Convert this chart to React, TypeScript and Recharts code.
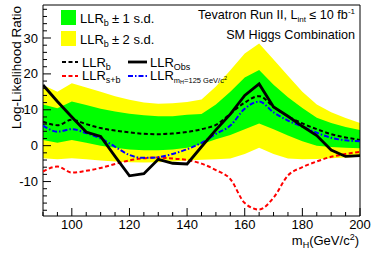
import { ComposedChart, Area, Line, XAxis, YAxis, ReferenceArea } from "recharts";

// Higgs mass points (GeV/c^2)
const masses = [90, 95, 100, 105, 110, 115, 120, 125, 130, 135, 140, 145, 150, 155, 160, 165, 170, 175, 180, 185, 190, 195, 200];

// log-likelihood ratios
const llrObs = [16.9, 12.3, 8.0, 3.8, 2.6, -3.0, -8.4, -7.8, -3.8, -4.9, -5.1, -0.3, 4.4, 8.8, 14.0, 17.2, 10.8, 8.2, 5.4, 2.8, -1.2, -3.0, -2.8];
const llrB = [6.7, 5.7, 7.2, 6.0, 4.9, 4.2, 3.7, 3.3, 3.2, 3.4, 3.8, 4.6, 5.8, 8.9, 12.0, 13.8, 10.8, 8.2, 6.2, 4.6, 3.2, 2.3, 1.6];
const llrSB = [-7.2, -5.8, -7.5, -7.0, -6.2, -5.1, -4.1, -3.5, -3.3, -3.6, -4.0, -5.0, -6.8, -9.3, -16.0, -17.8, -14.5, -8.3, -6.0, -4.4, -3.1, -2.3, -1.7];
const llrH125 = [5.6, 3.9, 4.6, 3.5, 2.0, -0.3, -2.6, -3.4, -3.2, -2.3, -1.0, 0.8, 3.3, 5.6, 10.3, 12.3, 9.3, 7.0, 5.3, 3.6, 2.2, 1.5, 1.2];

// LLR_b bands
const sd1Hi = [11.5, 10.4, 12.3, 11.3, 10.3, 9.5, 8.9, 8.5, 8.2, 8.2, 8.6, 8.8, 11.5, 15.0, 19.0, 21.1, 17.0, 13.5, 10.5, 7.8, 6.3, 5.2, 4.4];
const sd1Lo = [1.6, 0.8, 1.6, 0.8, 0.0, -0.6, -1.1, -1.3, -1.3, -1.1, -0.6, 0.4, 1.8, 3.0, 4.6, 6.2, 4.6, 2.8, 1.2, 0.0, -0.4, -0.6, -0.7];
const sd2Hi = [16.9, 15.0, 17.4, 16.2, 15.0, 13.8, 12.8, 12.0, 11.7, 11.8, 12.2, 12.9, 16.5, 21.0, 25.7, 28.5, 24.0, 19.5, 15.0, 11.5, 9.3, 7.7, 6.3];
const sd2Lo = [-3.5, -3.8, -3.5, -3.8, -4.1, -4.4, -4.6, -4.7, -4.6, -4.4, -4.1, -3.9, -3.8, -3.6, -2.3, -0.6, -2.3, -3.6, -3.8, -3.7, -3.5, -3.3, -3.1];

// axis ticks (majors get labels)
const xTicks = [90, 95, 100, 105, 110, 115, 120, 125, 130, 135, 140, 145, 150, 155, 160, 165, 170, 175, 180, 185, 190, 195, 200];
const yTicks = [-18, -16, -14, -12, -10, -8, -6, -4, -2, 0, 2, 4, 6, 8, 10, 12, 14, 16, 18, 20, 22, 24, 26, 28, 30, 32, 34, 36, 38];

const X_DOMAIN: [number, number] = [90, 200];
const Y_DOMAIN: [number, number] = [-19.6, 39.2];

const FONT = "'Liberation Sans', Arial, Helvetica, sans-serif";
const GREEN = "#00ff00";
const YELLOW = "#ffff00";

const data = masses.map((m, i) => ({
  m,
  obs: llrObs[i],
  b: llrB[i],
  sb: llrSB[i],
  h125: llrH125[i],
  sd1: [sd1Lo[i], sd1Hi[i]],
  sd2: [sd2Lo[i], sd2Hi[i]],
}));

function XTick({ x, y, payload }: any) {
  const major = payload.value % 20 === 0;
  return (
    <g>
      <line x1={x} x2={x} y1={y} y2={y - (major ? 8 : 4)} stroke="#000" />
      {major && (
        <text x={x} y={y + 12.5} textAnchor="middle" fontSize={13} fontFamily={FONT} fill="#000">
          {payload.value}
        </text>
      )}
    </g>
  );
}

function YTick({ x, y, payload }: any) {
  const major = payload.value % 10 === 0;
  return (
    <g>
      <line x1={x} x2={x + (major ? 8 : 4)} y1={y} y2={y} stroke="#000" />
      {major && (
        <text x={x - 5} y={y + 4.6} textAnchor="end" fontSize={13} fontFamily={FONT} fill="#000">
          {payload.value}
        </text>
      )}
    </g>
  );
}

export default function App() {
  return (
    <div style={{ position: "fixed", left: 0, top: 0, width: 374, height: 255, background: "#fff" }}>
      <ComposedChart width={374} height={255} data={data} margin={{ top: 5, right: 14, bottom: 0, left: 0 }}>
        <XAxis
          dataKey="m"
          type="number"
          domain={X_DOMAIN}
          ticks={xTicks}
          interval={0}
          height={39}
          tickSize={0}
          tickMargin={0}
          axisLine={false}
          tickLine={false}
          tick={XTick}
          allowDataOverflow
        />
        <YAxis
          type="number"
          domain={Y_DOMAIN}
          ticks={yTicks}
          interval={0}
          width={43}
          tickSize={0}
          tickMargin={0}
          axisLine={false}
          tickLine={false}
          tick={YTick}
          allowDataOverflow
        />
        <Area dataKey="sd2" type="linear" stroke="none" fill={YELLOW} fillOpacity={1} isAnimationActive={false} />
        <Area dataKey="sd1" type="linear" stroke="none" fill={GREEN} fillOpacity={1} isAnimationActive={false} />
        <Line dataKey="b" type="monotone" stroke="#000" strokeWidth={2} strokeDasharray="4 2.5" dot={false} activeDot={false} isAnimationActive={false} />
        <Line dataKey="sb" type="monotone" stroke="#ff0000" strokeWidth={2} strokeDasharray="4 2.5" dot={false} activeDot={false} isAnimationActive={false} />
        <Line dataKey="h125" type="monotone" stroke="#0000ff" strokeWidth={2} strokeDasharray="5 2 1.5 2" dot={false} activeDot={false} isAnimationActive={false} />
        <Line dataKey="obs" type="linear" stroke="#000" strokeWidth={2.8} dot={false} activeDot={false} isAnimationActive={false} />
        <ReferenceArea
          x1={X_DOMAIN[0]}
          x2={X_DOMAIN[1]}
          y1={Y_DOMAIN[0]}
          y2={Y_DOMAIN[1]}
          fill="none"
          stroke="#000"
          strokeWidth={1}
          ifOverflow="visible"
        />
      </ComposedChart>

      <svg
        width={374}
        height={255}
        style={{ position: "absolute", left: 0, top: 0, pointerEvents: "none" }}
        fontFamily={FONT}
      >
        {/* axis titles */}
        <text transform="translate(20.5, 6) rotate(-90)" textAnchor="end" fontSize={13.5}>
          Log-Likelihood Ratio
        </text>
        <text x={359} y={245} textAnchor="end" fontSize={13}>
          m<tspan fontSize={9} dy={3}>H</tspan>
          <tspan dy={-3}>(GeV/c</tspan>
          <tspan fontSize={9} dy={-5}>2</tspan>
          <tspan dy={5}>)</tspan>
        </text>

        {/* header */}
        <text x={355} y={19} textAnchor="end" fontSize={12.6}>
          Tevatron Run II, L<tspan fontSize={8} dy={3}>int</tspan>
          <tspan dy={-3}> ≤ 10 fb</tspan>
          <tspan fontSize={8} dy={-5}>-1</tspan>
        </text>
        <text x={355} y={39.3} textAnchor="end" fontSize={12.6}>
          SM Higgs Combination
        </text>

        {/* band legend */}
        <rect x={61} y={10} width={15} height={15} fill={GREEN} />
        <text x={80} y={23} fontSize={13}>
          LLR<tspan fontSize={9} dy={3}>b</tspan>
          <tspan dy={-3} dx={3}>± 1 s.d.</tspan>
        </text>
        <rect x={61} y={31} width={15} height={15} fill={YELLOW} />
        <text x={80} y={43.5} fontSize={13}>
          LLR<tspan fontSize={9} dy={3}>b</tspan>
          <tspan dy={-3} dx={3}>± 2 s.d.</tspan>
        </text>

        {/* line legend */}
        <line x1={62} x2={78} y1={62} y2={62} stroke="#000" strokeWidth={2} strokeDasharray="4 2.5" />
        <text x={82} y={66.5} fontSize={13}>
          LLR<tspan fontSize={9} dy={3}>b</tspan>
        </text>
        <line x1={62} x2={78} y1={76} y2={76} stroke="#ff0000" strokeWidth={2} strokeDasharray="4 2.5" />
        <text x={82} y={80} fontSize={13}>
          LLR<tspan fontSize={9} dy={3}>s+b</tspan>
        </text>
        <line x1={128} x2={147} y1={62} y2={62} stroke="#000" strokeWidth={2.8} />
        <text x={150} y={66.5} fontSize={13}>
          LLR<tspan fontSize={9} dy={3}>Obs</tspan>
        </text>
        <line x1={128} x2={147} y1={76} y2={76} stroke="#0000ff" strokeWidth={2} strokeDasharray="5 2 1.5 2" />
        <text x={150} y={80} fontSize={13}>
          LLR<tspan fontSize={7.5} dy={2.5}>m</tspan>
          <tspan fontSize={5.5} dy={1.5}>H</tspan>
          <tspan fontSize={7.5} dy={-1.5}>=125 GeV/c</tspan>
          <tspan fontSize={5.5} dy={-3}>2</tspan>
        </text>
      </svg>
    </div>
  );
}
